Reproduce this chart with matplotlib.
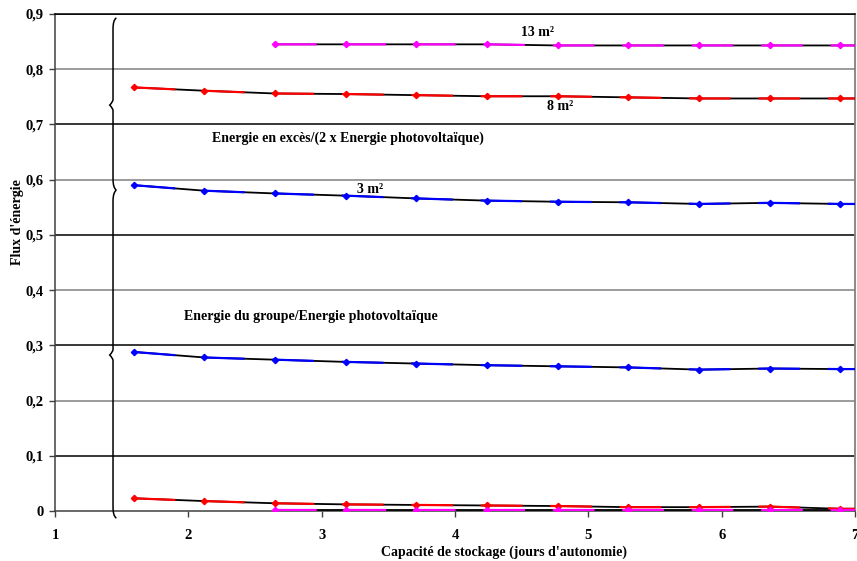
import matplotlib
matplotlib.use("Agg")
import matplotlib.pyplot as plt
from matplotlib.path import Path
from matplotlib.patches import PathPatch

plt.rcParams['font.family'] = ['Liberation Serif', 'DejaVu Serif']
plt.rcParams['font.weight'] = 'bold'
plt.rcParams['axes.labelweight'] = 'bold'
plt.rcParams['lines.scale_dashes'] = False

# Storage capacity (days of autonomy)
jours = [1.59, 2.12, 2.65, 3.18, 3.71, 4.24, 4.77, 5.30, 5.83, 6.36, 6.89, 7.42]
jours_13 = [2.65, 3.18, 3.71, 4.24, 4.77, 5.30, 5.83, 6.36, 6.89, 7.42]

# Excess energy / (2 x PV energy)
exces_3 = [0.590, 0.580, 0.575, 0.571, 0.566, 0.562, 0.560, 0.559, 0.556, 0.558, 0.556, 0.556]
exces_8 = [0.767, 0.761, 0.756, 0.755, 0.753, 0.751, 0.751, 0.749, 0.747, 0.747, 0.747, 0.747]
exces_13 = [0.845, 0.845, 0.845, 0.845, 0.843, 0.843, 0.843, 0.843, 0.843, 0.843]

# Generator energy / PV energy
groupe_3 = [0.288, 0.278, 0.274, 0.270, 0.267, 0.264, 0.262, 0.260, 0.256, 0.258, 0.257, 0.257]
groupe_8 = [0.023, 0.018, 0.014, 0.012, 0.011, 0.010, 0.009, 0.007, 0.007, 0.008, 0.004, 0.004]
groupe_13 = [0.002, 0.002, 0.002, 0.002, 0.002, 0.002, 0.002, 0.002, 0.002, 0.002]

x_ticks = [1, 2, 3, 4, 5, 6, 7]
y_ticks = [0, 0.1, 0.2, 0.3, 0.4, 0.5, 0.6, 0.7, 0.8, 0.9]
y_labels = ["0", "0,1", "0,2", "0,3", "0,4", "0,5", "0,6", "0,7", "0,8", "0,9"]

fig = plt.figure(figsize=(8.57, 5.61), dpi=100)
ax = fig.add_axes([0.0642, 0.0891, 0.9335, 0.886])
ax.set_xlim(1, 7)
ax.set_ylim(0, 0.9)

# horizontal grid: alternating grey and black
for v in y_ticks[1:]:
    col = '#808080' if round(v * 10) % 2 == 0 else 'black'
    ax.axhline(v, color=col, lw=1.1, zorder=1)

def serie(x, y, col):
    ax.plot(x, y, color='black', lw=1.3, zorder=3)
    ax.plot(x, y, color=col, lw=1.6, linestyle=(0, (30, 20)), zorder=4)
    ax.plot(x, y, linestyle='none', marker='D', ms=3.2, color=col,
            markeredgecolor=col, zorder=5)

serie(jours_13, exces_13, '#FF00FF')
serie(jours, exces_8, '#FF0000')
serie(jours, exces_3, '#0000FF')
serie(jours, groupe_3, '#0000FF')
serie(jours, groupe_8, '#FF0000')
serie(jours_13, groupe_13, '#FF00FF')

# curly braces grouping the two families of curves
def accolade(y_top, y_bot, y_tip, x0=1.435, dx=0.025):
    xr = x0 + dx
    xl = x0 - dx
    verts = [(xr, y_top), (x0, y_top - 0.004), (x0, y_top - 0.02),
             (x0, y_tip + 0.01), (x0, y_tip + 0.006), (xl, y_tip),
             (x0, y_tip - 0.006), (x0, y_tip - 0.01),
             (x0, y_bot + 0.02), (x0, y_bot + 0.004), (xr, y_bot)]
    codes = [Path.MOVETO, Path.CURVE3, Path.CURVE3,
             Path.LINETO, Path.CURVE3, Path.CURVE3,
             Path.CURVE3, Path.CURVE3,
             Path.LINETO, Path.CURVE3, Path.CURVE3]
    ax.add_patch(PathPatch(Path(verts, codes), fill=False, lw=1.1,
                           edgecolor='black', clip_on=False, zorder=6))

accolade(0.893, 0.581, 0.735)
accolade(0.581, -0.013, 0.2825)

ts = 10
ax.text(4.62, 0.866, "13 m²", ha='center', va='center', fontsize=ts)
ax.text(4.79, 0.733, "8 m²", ha='center', va='center', fontsize=ts)
ax.text(3.36, 0.583, "3 m²", ha='center', va='center', fontsize=ts)
ax.text(3.20, 0.675, "Energie en excès/(2 x Energie photovoltaïque)",
        ha='center', va='center', fontsize=ts)
ax.text(2.92, 0.352, "Energie du groupe/Energie photovoltaïque",
        ha='center', va='center', fontsize=ts)

ax.set_xticks(x_ticks)
ax.set_xticklabels([str(t) for t in x_ticks], fontsize=10.5, fontweight='bold')
ax.set_yticks(y_ticks)
ax.set_yticklabels(y_labels, fontsize=10.5, fontweight='bold')
ax.tick_params(axis='x', direction='out', length=4, width=1,
               color='#404040', pad=9)
ax.tick_params(axis='y', direction='out', length=4, width=1,
               color='#404040', pad=4)
ax.set_xlabel("Capacité de stockage (jours d'autonomie)", fontsize=10,
              fontweight='bold', labelpad=-1)
ax.xaxis.set_label_coords(0.5615, -0.069)
fig.text(0.02, 0.605, "Flux d'énergie", rotation=90, ha='center',
         va='center', fontsize=10, fontweight='bold')

for s in ['left', 'bottom']:
    ax.spines[s].set_color('#404040')
    ax.spines[s].set_linewidth(1.1)
ax.spines['top'].set_color('black')
ax.spines['top'].set_linewidth(1.1)
ax.spines['right'].set_color('#808080')
ax.spines['right'].set_linewidth(1.3)

fig.savefig("out.png", dpi=100)
